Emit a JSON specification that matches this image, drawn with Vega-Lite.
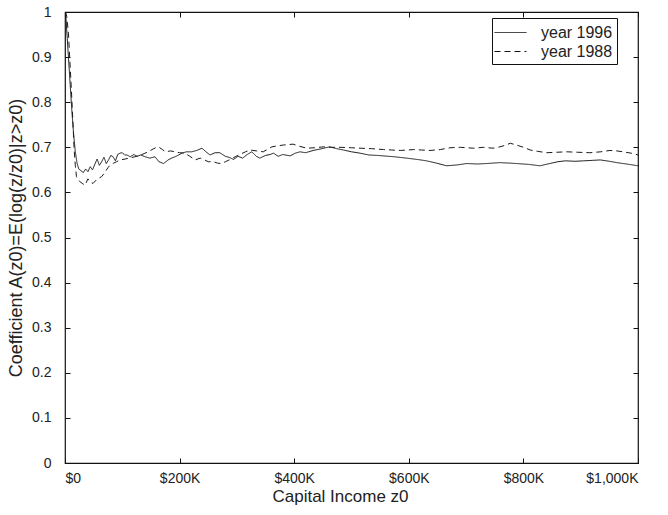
{
  "$schema": "https://vega.github.io/schema/vega-lite/v6.json",
  "width": 573,
  "height": 451,
  "autosize": "none",
  "padding": {"left": 65, "top": 12, "right": 30, "bottom": 52},
  "background": "white",
  "config": {
    "font": "Liberation Sans",
    "view": {"stroke": "#111", "strokeWidth": 1.2},
    "axis": {
      "domain": false,
      "grid": false,
      "ticks": true,
      "tickColor": "#111",
      "tickSize": -5,
      "labelColor": "#222",
      "labelFontSize": 14,
      "titleColor": "#222",
      "titleFontSize": 18,
      "titleFontWeight": "normal"
    }
  },
  "datasets": {
    "curves": [
      {"z0_k": 1, "a": 1.0, "series": "year 1996"},
      {"z0_k": 3, "a": 0.96, "series": "year 1996"},
      {"z0_k": 6, "a": 0.9, "series": "year 1996"},
      {"z0_k": 9, "a": 0.84, "series": "year 1996"},
      {"z0_k": 12, "a": 0.78, "series": "year 1996"},
      {"z0_k": 15, "a": 0.73, "series": "year 1996"},
      {"z0_k": 18, "a": 0.69, "series": "year 1996"},
      {"z0_k": 21, "a": 0.665, "series": "year 1996"},
      {"z0_k": 24, "a": 0.652, "series": "year 1996"},
      {"z0_k": 28, "a": 0.648, "series": "year 1996"},
      {"z0_k": 32, "a": 0.644, "series": "year 1996"},
      {"z0_k": 36, "a": 0.652, "series": "year 1996"},
      {"z0_k": 40, "a": 0.646, "series": "year 1996"},
      {"z0_k": 44, "a": 0.657, "series": "year 1996"},
      {"z0_k": 48, "a": 0.65, "series": "year 1996"},
      {"z0_k": 52, "a": 0.662, "series": "year 1996"},
      {"z0_k": 56, "a": 0.674, "series": "year 1996"},
      {"z0_k": 60, "a": 0.66, "series": "year 1996"},
      {"z0_k": 64, "a": 0.668, "series": "year 1996"},
      {"z0_k": 68, "a": 0.678, "series": "year 1996"},
      {"z0_k": 72, "a": 0.664, "series": "year 1996"},
      {"z0_k": 76, "a": 0.672, "series": "year 1996"},
      {"z0_k": 80, "a": 0.682, "series": "year 1996"},
      {"z0_k": 84, "a": 0.679, "series": "year 1996"},
      {"z0_k": 88, "a": 0.67, "series": "year 1996"},
      {"z0_k": 92, "a": 0.684, "series": "year 1996"},
      {"z0_k": 96, "a": 0.687, "series": "year 1996"},
      {"z0_k": 100, "a": 0.688, "series": "year 1996"},
      {"z0_k": 104, "a": 0.683, "series": "year 1996"},
      {"z0_k": 108, "a": 0.683, "series": "year 1996"},
      {"z0_k": 114, "a": 0.679, "series": "year 1996"},
      {"z0_k": 120, "a": 0.684, "series": "year 1996"},
      {"z0_k": 126, "a": 0.68, "series": "year 1996"},
      {"z0_k": 132, "a": 0.683, "series": "year 1996"},
      {"z0_k": 140, "a": 0.679, "series": "year 1996"},
      {"z0_k": 148, "a": 0.676, "series": "year 1996"},
      {"z0_k": 157, "a": 0.679, "series": "year 1996"},
      {"z0_k": 164, "a": 0.668, "series": "year 1996"},
      {"z0_k": 172, "a": 0.664, "series": "year 1996"},
      {"z0_k": 180, "a": 0.672, "series": "year 1996"},
      {"z0_k": 186, "a": 0.676, "series": "year 1996"},
      {"z0_k": 194, "a": 0.68, "series": "year 1996"},
      {"z0_k": 204, "a": 0.687, "series": "year 1996"},
      {"z0_k": 212, "a": 0.69, "series": "year 1996"},
      {"z0_k": 221, "a": 0.69, "series": "year 1996"},
      {"z0_k": 230, "a": 0.693, "series": "year 1996"},
      {"z0_k": 239, "a": 0.698, "series": "year 1996"},
      {"z0_k": 246, "a": 0.69, "series": "year 1996"},
      {"z0_k": 253, "a": 0.683, "series": "year 1996"},
      {"z0_k": 262, "a": 0.688, "series": "year 1996"},
      {"z0_k": 270, "a": 0.688, "series": "year 1996"},
      {"z0_k": 280, "a": 0.68, "series": "year 1996"},
      {"z0_k": 288, "a": 0.677, "series": "year 1996"},
      {"z0_k": 294, "a": 0.673, "series": "year 1996"},
      {"z0_k": 302, "a": 0.68, "series": "year 1996"},
      {"z0_k": 310, "a": 0.676, "series": "year 1996"},
      {"z0_k": 318, "a": 0.684, "series": "year 1996"},
      {"z0_k": 326, "a": 0.69, "series": "year 1996"},
      {"z0_k": 334, "a": 0.68, "series": "year 1996"},
      {"z0_k": 340, "a": 0.676, "series": "year 1996"},
      {"z0_k": 350, "a": 0.682, "series": "year 1996"},
      {"z0_k": 358, "a": 0.684, "series": "year 1996"},
      {"z0_k": 364, "a": 0.687, "series": "year 1996"},
      {"z0_k": 372, "a": 0.68, "series": "year 1996"},
      {"z0_k": 380, "a": 0.684, "series": "year 1996"},
      {"z0_k": 393, "a": 0.681, "series": "year 1996"},
      {"z0_k": 402, "a": 0.687, "series": "year 1996"},
      {"z0_k": 410, "a": 0.69, "series": "year 1996"},
      {"z0_k": 420, "a": 0.688, "series": "year 1996"},
      {"z0_k": 433, "a": 0.693, "series": "year 1996"},
      {"z0_k": 445, "a": 0.696, "series": "year 1996"},
      {"z0_k": 455, "a": 0.699, "series": "year 1996"},
      {"z0_k": 462, "a": 0.701, "series": "year 1996"},
      {"z0_k": 474, "a": 0.697, "series": "year 1996"},
      {"z0_k": 486, "a": 0.694, "series": "year 1996"},
      {"z0_k": 500, "a": 0.69, "series": "year 1996"},
      {"z0_k": 515, "a": 0.687, "series": "year 1996"},
      {"z0_k": 530, "a": 0.683, "series": "year 1996"},
      {"z0_k": 545, "a": 0.682, "series": "year 1996"},
      {"z0_k": 555, "a": 0.681, "series": "year 1996"},
      {"z0_k": 575, "a": 0.679, "series": "year 1996"},
      {"z0_k": 596, "a": 0.676, "series": "year 1996"},
      {"z0_k": 615, "a": 0.673, "series": "year 1996"},
      {"z0_k": 631, "a": 0.67, "series": "year 1996"},
      {"z0_k": 648, "a": 0.665, "series": "year 1996"},
      {"z0_k": 666, "a": 0.659, "series": "year 1996"},
      {"z0_k": 685, "a": 0.661, "series": "year 1996"},
      {"z0_k": 701, "a": 0.664, "series": "year 1996"},
      {"z0_k": 720, "a": 0.663, "series": "year 1996"},
      {"z0_k": 736, "a": 0.664, "series": "year 1996"},
      {"z0_k": 759, "a": 0.666, "series": "year 1996"},
      {"z0_k": 775, "a": 0.665, "series": "year 1996"},
      {"z0_k": 788, "a": 0.664, "series": "year 1996"},
      {"z0_k": 810, "a": 0.662, "series": "year 1996"},
      {"z0_k": 829, "a": 0.659, "series": "year 1996"},
      {"z0_k": 846, "a": 0.664, "series": "year 1996"},
      {"z0_k": 860, "a": 0.668, "series": "year 1996"},
      {"z0_k": 873, "a": 0.67, "series": "year 1996"},
      {"z0_k": 890, "a": 0.669, "series": "year 1996"},
      {"z0_k": 905, "a": 0.67, "series": "year 1996"},
      {"z0_k": 920, "a": 0.671, "series": "year 1996"},
      {"z0_k": 934, "a": 0.672, "series": "year 1996"},
      {"z0_k": 950, "a": 0.669, "series": "year 1996"},
      {"z0_k": 963, "a": 0.666, "series": "year 1996"},
      {"z0_k": 980, "a": 0.663, "series": "year 1996"},
      {"z0_k": 1000, "a": 0.659, "series": "year 1996"},
      {"z0_k": 1, "a": 1.0, "series": "year 1988"},
      {"z0_k": 3, "a": 0.99, "series": "year 1988"},
      {"z0_k": 6, "a": 0.953, "series": "year 1988"},
      {"z0_k": 9, "a": 0.88, "series": "year 1988"},
      {"z0_k": 12, "a": 0.805, "series": "year 1988"},
      {"z0_k": 14, "a": 0.75, "series": "year 1988"},
      {"z0_k": 16, "a": 0.694, "series": "year 1988"},
      {"z0_k": 18, "a": 0.66, "series": "year 1988"},
      {"z0_k": 20, "a": 0.635, "series": "year 1988"},
      {"z0_k": 25, "a": 0.625, "series": "year 1988"},
      {"z0_k": 30, "a": 0.62, "series": "year 1988"},
      {"z0_k": 35, "a": 0.616, "series": "year 1988"},
      {"z0_k": 40, "a": 0.63, "series": "year 1988"},
      {"z0_k": 45, "a": 0.622, "series": "year 1988"},
      {"z0_k": 49, "a": 0.62, "series": "year 1988"},
      {"z0_k": 55, "a": 0.628, "series": "year 1988"},
      {"z0_k": 60, "a": 0.632, "series": "year 1988"},
      {"z0_k": 64, "a": 0.635, "series": "year 1988"},
      {"z0_k": 70, "a": 0.645, "series": "year 1988"},
      {"z0_k": 75, "a": 0.655, "series": "year 1988"},
      {"z0_k": 79, "a": 0.661, "series": "year 1988"},
      {"z0_k": 85, "a": 0.665, "series": "year 1988"},
      {"z0_k": 90, "a": 0.668, "series": "year 1988"},
      {"z0_k": 96, "a": 0.672, "series": "year 1988"},
      {"z0_k": 105, "a": 0.674, "series": "year 1988"},
      {"z0_k": 115, "a": 0.677, "series": "year 1988"},
      {"z0_k": 122, "a": 0.679, "series": "year 1988"},
      {"z0_k": 130, "a": 0.682, "series": "year 1988"},
      {"z0_k": 138, "a": 0.686, "series": "year 1988"},
      {"z0_k": 145, "a": 0.69, "series": "year 1988"},
      {"z0_k": 152, "a": 0.695, "series": "year 1988"},
      {"z0_k": 158, "a": 0.699, "series": "year 1988"},
      {"z0_k": 163, "a": 0.701, "series": "year 1988"},
      {"z0_k": 170, "a": 0.695, "series": "year 1988"},
      {"z0_k": 175, "a": 0.69, "series": "year 1988"},
      {"z0_k": 184, "a": 0.692, "series": "year 1988"},
      {"z0_k": 192, "a": 0.69, "series": "year 1988"},
      {"z0_k": 200, "a": 0.688, "series": "year 1988"},
      {"z0_k": 209, "a": 0.687, "series": "year 1988"},
      {"z0_k": 218, "a": 0.68, "series": "year 1988"},
      {"z0_k": 227, "a": 0.672, "series": "year 1988"},
      {"z0_k": 236, "a": 0.676, "series": "year 1988"},
      {"z0_k": 242, "a": 0.673, "series": "year 1988"},
      {"z0_k": 250, "a": 0.668, "series": "year 1988"},
      {"z0_k": 259, "a": 0.668, "series": "year 1988"},
      {"z0_k": 266, "a": 0.665, "series": "year 1988"},
      {"z0_k": 273, "a": 0.664, "series": "year 1988"},
      {"z0_k": 280, "a": 0.668, "series": "year 1988"},
      {"z0_k": 293, "a": 0.676, "series": "year 1988"},
      {"z0_k": 297, "a": 0.679, "series": "year 1988"},
      {"z0_k": 305, "a": 0.684, "series": "year 1988"},
      {"z0_k": 315, "a": 0.69, "series": "year 1988"},
      {"z0_k": 323, "a": 0.694, "series": "year 1988"},
      {"z0_k": 334, "a": 0.692, "series": "year 1988"},
      {"z0_k": 346, "a": 0.69, "series": "year 1988"},
      {"z0_k": 354, "a": 0.696, "series": "year 1988"},
      {"z0_k": 361, "a": 0.701, "series": "year 1988"},
      {"z0_k": 370, "a": 0.703, "series": "year 1988"},
      {"z0_k": 381, "a": 0.705, "series": "year 1988"},
      {"z0_k": 390, "a": 0.706, "series": "year 1988"},
      {"z0_k": 398, "a": 0.707, "series": "year 1988"},
      {"z0_k": 410, "a": 0.702, "series": "year 1988"},
      {"z0_k": 422, "a": 0.698, "series": "year 1988"},
      {"z0_k": 436, "a": 0.699, "series": "year 1988"},
      {"z0_k": 451, "a": 0.701, "series": "year 1988"},
      {"z0_k": 465, "a": 0.7, "series": "year 1988"},
      {"z0_k": 480, "a": 0.7, "series": "year 1988"},
      {"z0_k": 500, "a": 0.699, "series": "year 1988"},
      {"z0_k": 515, "a": 0.698, "series": "year 1988"},
      {"z0_k": 535, "a": 0.697, "series": "year 1988"},
      {"z0_k": 556, "a": 0.695, "series": "year 1988"},
      {"z0_k": 570, "a": 0.694, "series": "year 1988"},
      {"z0_k": 585, "a": 0.693, "series": "year 1988"},
      {"z0_k": 598, "a": 0.694, "series": "year 1988"},
      {"z0_k": 608, "a": 0.695, "series": "year 1988"},
      {"z0_k": 622, "a": 0.694, "series": "year 1988"},
      {"z0_k": 637, "a": 0.693, "series": "year 1988"},
      {"z0_k": 655, "a": 0.695, "series": "year 1988"},
      {"z0_k": 672, "a": 0.699, "series": "year 1988"},
      {"z0_k": 690, "a": 0.7, "series": "year 1988"},
      {"z0_k": 713, "a": 0.698, "series": "year 1988"},
      {"z0_k": 730, "a": 0.7, "series": "year 1988"},
      {"z0_k": 747, "a": 0.698, "series": "year 1988"},
      {"z0_k": 759, "a": 0.701, "series": "year 1988"},
      {"z0_k": 770, "a": 0.705, "series": "year 1988"},
      {"z0_k": 777, "a": 0.709, "series": "year 1988"},
      {"z0_k": 788, "a": 0.705, "series": "year 1988"},
      {"z0_k": 800, "a": 0.7, "series": "year 1988"},
      {"z0_k": 812, "a": 0.694, "series": "year 1988"},
      {"z0_k": 825, "a": 0.691, "series": "year 1988"},
      {"z0_k": 841, "a": 0.688, "series": "year 1988"},
      {"z0_k": 858, "a": 0.689, "series": "year 1988"},
      {"z0_k": 876, "a": 0.69, "series": "year 1988"},
      {"z0_k": 895, "a": 0.689, "series": "year 1988"},
      {"z0_k": 916, "a": 0.688, "series": "year 1988"},
      {"z0_k": 935, "a": 0.69, "series": "year 1988"},
      {"z0_k": 951, "a": 0.693, "series": "year 1988"},
      {"z0_k": 963, "a": 0.692, "series": "year 1988"},
      {"z0_k": 974, "a": 0.69, "series": "year 1988"},
      {"z0_k": 988, "a": 0.687, "series": "year 1988"},
      {"z0_k": 1000, "a": 0.683, "series": "year 1988"}
    ]
  },
  "data": {"name": "curves"},
  "resolve": {"axis": {"x": "independent", "y": "independent"}},
  "layer": [
    {
      "mark": {"type": "line", "clip": true, "color": "#1a1a1a", "strokeWidth": 1},
      "encoding": {
        "x": {
          "field": "z0_k", "type": "quantitative",
          "scale": {"domain": [0, 1000], "nice": false},
          "axis": {
            "title": "Capital Income z0",
            "titleFontSize": 17,
            "titleX": 275,
            "titleAlign": "center",
            "values": [0, 200, 400, 600, 800, 1000],
            "labelExpr": "datum.value == 0 ? '$0' : '$' + format(datum.value, ',') + 'K'",
            "labelPadding": 13,
            "titlePadding": 3
          }
        },
        "y": {
          "field": "a", "type": "quantitative",
          "scale": {"domain": [0, 1], "nice": false},
          "axis": {
            "title": "Coefficient A(z0)=E(log(z/z0)|z>z0)",
            "values": [0, 0.1, 0.2, 0.3, 0.4, 0.5, 0.6, 0.7, 0.8, 0.9, 1],
            "format": "~g",
            "labelPadding": 19,
            "titlePadding": 6
          }
        },
        "strokeDash": {
          "field": "series", "type": "nominal",
          "scale": {"domain": ["year 1996", "year 1988"], "range": [[1, 0], [6, 4]]},
          "legend": {
            "title": null,
            "orient": "none",
            "legendX": 427,
            "legendY": 6,
            "strokeColor": "#111",
            "fillColor": "white",
            "padding": 4,
            "symbolType": "M-1.6,0H1.6",
            "symbolSize": 400,
            "symbolOffset": 4,
            "symbolStrokeWidth": 1,
            "symbolStrokeColor": "#111",
            "symbolFillColor": "transparent",
            "labelOffset": 20,
            "labelFontSize": 16,
            "labelColor": "#222",
            "rowPadding": 0
          }
        }
      }
    },
    {
      "mark": {"type": "line", "opacity": 0},
      "encoding": {
        "x": {
          "field": "z0_k", "type": "quantitative",
          "scale": {"domain": [0, 1000], "nice": false},
          "axis": {"orient": "top", "title": null, "labels": false, "values": [0, 200, 400, 600, 800, 1000]}
        },
        "y": {
          "field": "a", "type": "quantitative",
          "scale": {"domain": [0, 1], "nice": false},
          "axis": {"orient": "right", "title": null, "labels": false, "values": [0, 0.1, 0.2, 0.3, 0.4, 0.5, 0.6, 0.7, 0.8, 0.9, 1]}
        },
        "detail": {"field": "series"}
      }
    }
  ]
}
